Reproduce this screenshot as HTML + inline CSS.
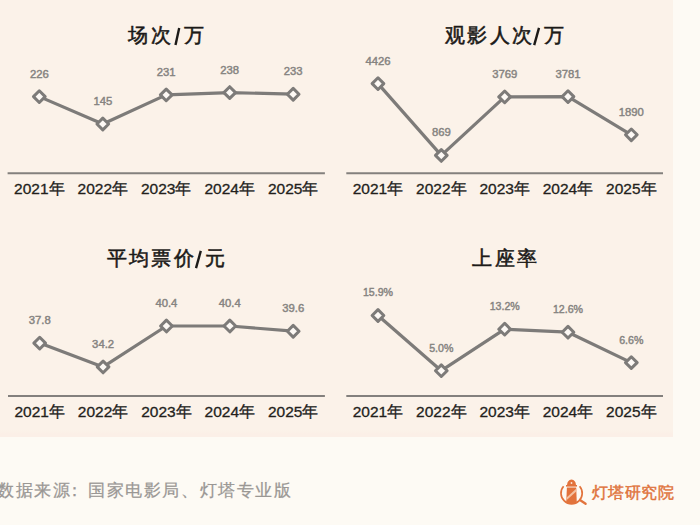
<!DOCTYPE html>
<html><head><meta charset="utf-8"><style>
html,body{margin:0;padding:0;}
body{width:700px;height:525px;overflow:hidden;background:#fdfaf4;position:relative;font-family:"Liberation Sans",sans-serif;}
.panel{position:absolute;left:0;top:0;width:673px;height:437px;background:linear-gradient(to bottom,#fbf2e9 0,#fbf2e9 430px,#fbefe7 434px,#fbefe7 437px);}
svg{position:absolute;left:0;top:0;}
.t{font-size:19.5px;font-weight:500;fill:#1c1a18;stroke:#1c1a18;stroke-width:0.55px;letter-spacing:2.3px;}
.l{font-size:11.3px;fill:#868481;stroke:#868481;stroke-width:0.45px;text-anchor:middle;}
.y{font-size:15.5px;fill:#231f1c;stroke:#231f1c;stroke-width:0.3px;text-anchor:middle;}
.src{position:absolute;left:-3px;top:479px;font-size:17px;line-height:24px;letter-spacing:1.6px;color:#9a9794;-webkit-text-stroke:0.25px #9a9794;white-space:nowrap;}
.c{position:relative;left:-5.5px;margin-right:-2px;}
.logo{position:absolute;left:591.8px;top:480.5px;letter-spacing:0.55px;font-size:16.4px;line-height:22px;color:#e0733c;-webkit-text-stroke:0.45px #e0733c;white-space:nowrap;}
</style></head><body>
<div class="panel"></div>
<svg width="700" height="525" viewBox="0 0 700 525">
<text class="t" x="128.4" y="42.0">场次</text>
<text class="t" x="183.6" y="42.0">万</text>
<line x1="175.5" y1="45.1" x2="179.2" y2="27.9" stroke="#1c1a18" stroke-width="2.4"/>
<line x1="7.6" y1="173.3" x2="324.9" y2="173.3" stroke="#83807d" stroke-width="2"/>
<polyline points="39.3,96.6 102.8,124.0 166.2,94.9 229.7,92.6 293.2,94.2" fill="none" stroke="#7d7b79" stroke-width="3.2" stroke-linejoin="round"/>
<path d="M39.3 90.76L45.18 96.6L39.3 102.46L33.48 96.6Z" fill="#fdf9f5" stroke="#7d7b79" stroke-width="3.0" stroke-linejoin="round"/>
<text class="l" transform="translate(39.3 77.5) scale(1 1)">226</text>
<path d="M102.8 118.14L108.64 124.0L102.8 129.84L96.94 124.0Z" fill="#fdf9f5" stroke="#7d7b79" stroke-width="3.0" stroke-linejoin="round"/>
<text class="l" transform="translate(102.8 104.9) scale(1 1)">145</text>
<path d="M166.2 89.07L172.10 94.9L166.2 100.77L160.40 94.9Z" fill="#fdf9f5" stroke="#7d7b79" stroke-width="3.0" stroke-linejoin="round"/>
<text class="l" transform="translate(166.2 75.8) scale(1 1)">231</text>
<path d="M229.7 86.71L235.56 92.6L229.7 98.41L223.86 92.6Z" fill="#fdf9f5" stroke="#7d7b79" stroke-width="3.0" stroke-linejoin="round"/>
<text class="l" transform="translate(229.7 73.5) scale(1 1)">238</text>
<path d="M293.2 88.40L299.02 94.2L293.2 100.10L287.32 94.2Z" fill="#fdf9f5" stroke="#7d7b79" stroke-width="3.0" stroke-linejoin="round"/>
<text class="l" transform="translate(293.2 75.1) scale(1 1)">233</text>
<text class="y" x="39.3" y="194.1">2021年</text>
<text class="y" x="102.8" y="194.1">2022年</text>
<text class="y" x="166.2" y="194.1">2023年</text>
<text class="y" x="229.7" y="194.1">2024年</text>
<text class="y" x="293.2" y="194.1">2025年</text>
<text class="t" x="445.1" y="42.0">观影人次</text>
<text class="t" x="543.5" y="42.0">万</text>
<line x1="534.2" y1="45.1" x2="539.0" y2="27.9" stroke="#1c1a18" stroke-width="2.4"/>
<line x1="346.3" y1="173.3" x2="663" y2="173.3" stroke="#83807d" stroke-width="2"/>
<polyline points="378.0,83.6 441.3,155.4 504.7,96.9 568.0,96.6 631.3,134.8" fill="none" stroke="#7d7b79" stroke-width="3.2" stroke-linejoin="round"/>
<path d="M378.0 77.74L383.82 83.6L378.0 89.44L372.12 83.6Z" fill="#fdf9f5" stroke="#7d7b79" stroke-width="3.0" stroke-linejoin="round"/>
<text class="l" transform="translate(378.0 64.5) scale(1 1)">4426</text>
<path d="M441.3 149.60L447.16 155.4L441.3 161.30L435.46 155.4Z" fill="#fdf9f5" stroke="#7d7b79" stroke-width="3.0" stroke-linejoin="round"/>
<text class="l" transform="translate(441.3 136.3) scale(1 1)">869</text>
<path d="M504.7 91.02L510.50 96.9L504.7 102.72L498.80 96.9Z" fill="#fdf9f5" stroke="#7d7b79" stroke-width="3.0" stroke-linejoin="round"/>
<text class="l" transform="translate(504.7 77.8) scale(1 1)">3769</text>
<path d="M568.0 90.77L573.84 96.6L568.0 102.47L562.14 96.6Z" fill="#fdf9f5" stroke="#7d7b79" stroke-width="3.0" stroke-linejoin="round"/>
<text class="l" transform="translate(568.0 77.5) scale(1 1)">3781</text>
<path d="M631.3 128.97L637.18 134.8L631.3 140.67L625.48 134.8Z" fill="#fdf9f5" stroke="#7d7b79" stroke-width="3.0" stroke-linejoin="round"/>
<text class="l" transform="translate(631.3 115.7) scale(1 1)">1890</text>
<text class="y" x="378.0" y="194.1">2021年</text>
<text class="y" x="441.3" y="194.1">2022年</text>
<text class="y" x="504.7" y="194.1">2023年</text>
<text class="y" x="568.0" y="194.1">2024年</text>
<text class="y" x="631.3" y="194.1">2025年</text>
<text class="t" x="106.9" y="265.0">平均票价</text>
<text class="t" x="205.4" y="265.0">元</text>
<line x1="196.0" y1="268.1" x2="200.8" y2="250.9" stroke="#1c1a18" stroke-width="2.4"/>
<line x1="8" y1="396.1" x2="324.9" y2="396.1" stroke="#83807d" stroke-width="2"/>
<polyline points="39.7,343.1 103.1,366.9 166.4,326.0 229.8,326.0 293.2,331.2" fill="none" stroke="#7d7b79" stroke-width="3.2" stroke-linejoin="round"/>
<path d="M39.7 337.29L45.54 343.1L39.7 348.99L33.84 343.1Z" fill="#fdf9f5" stroke="#7d7b79" stroke-width="3.0" stroke-linejoin="round"/>
<text class="l" transform="translate(39.7 324.0) scale(1 1)">37.8</text>
<path d="M103.1 361.09L108.92 366.9L103.1 372.79L97.22 366.9Z" fill="#fdf9f5" stroke="#7d7b79" stroke-width="3.0" stroke-linejoin="round"/>
<text class="l" transform="translate(103.1 347.8) scale(1 1)">34.2</text>
<path d="M166.4 320.11L172.30 326.0L166.4 331.81L160.60 326.0Z" fill="#fdf9f5" stroke="#7d7b79" stroke-width="3.0" stroke-linejoin="round"/>
<text class="l" transform="translate(166.4 306.9) scale(1 1)">40.4</text>
<path d="M229.8 320.11L235.68 326.0L229.8 331.81L223.98 326.0Z" fill="#fdf9f5" stroke="#7d7b79" stroke-width="3.0" stroke-linejoin="round"/>
<text class="l" transform="translate(229.8 306.9) scale(1 1)">40.4</text>
<path d="M293.2 325.39L299.06 331.2L293.2 337.09L287.36 331.2Z" fill="#fdf9f5" stroke="#7d7b79" stroke-width="3.0" stroke-linejoin="round"/>
<text class="l" transform="translate(293.2 312.1) scale(1 1)">39.6</text>
<text class="y" x="39.7" y="416.9">2021年</text>
<text class="y" x="103.1" y="416.9">2022年</text>
<text class="y" x="166.4" y="416.9">2023年</text>
<text class="y" x="229.8" y="416.9">2024年</text>
<text class="y" x="293.2" y="416.9">2025年</text>
<text class="t" x="472.3" y="265.0">上座率</text>
<line x1="346.3" y1="396.1" x2="663" y2="396.1" stroke="#83807d" stroke-width="2"/>
<polyline points="378.0,315.5 441.3,370.7 504.7,329.2 568.0,332.2 631.3,362.6" fill="none" stroke="#7d7b79" stroke-width="3.2" stroke-linejoin="round"/>
<path d="M378.0 309.63L383.82 315.5L378.0 321.33L372.12 315.5Z" fill="#fdf9f5" stroke="#7d7b79" stroke-width="3.0" stroke-linejoin="round"/>
<text class="l" transform="translate(378.0 296.4) scale(0.94 1)">15.9%</text>
<path d="M441.3 364.83L447.16 370.7L441.3 376.53L435.46 370.7Z" fill="#fdf9f5" stroke="#7d7b79" stroke-width="3.0" stroke-linejoin="round"/>
<text class="l" transform="translate(441.3 351.6) scale(0.94 1)">5.0%</text>
<path d="M504.7 323.31L510.50 329.2L504.7 335.01L498.80 329.2Z" fill="#fdf9f5" stroke="#7d7b79" stroke-width="3.0" stroke-linejoin="round"/>
<text class="l" transform="translate(504.7 310.1) scale(0.94 1)">13.2%</text>
<path d="M568.0 326.34L573.84 332.2L568.0 338.04L562.14 332.2Z" fill="#fdf9f5" stroke="#7d7b79" stroke-width="3.0" stroke-linejoin="round"/>
<text class="l" transform="translate(568.0 313.1) scale(0.94 1)">12.6%</text>
<path d="M631.3 356.73L637.18 362.6L631.3 368.43L625.48 362.6Z" fill="#fdf9f5" stroke="#7d7b79" stroke-width="3.0" stroke-linejoin="round"/>
<text class="l" transform="translate(631.3 343.5) scale(0.94 1)">6.6%</text>
<text class="y" x="378.0" y="416.9">2021年</text>
<text class="y" x="441.3" y="416.9">2022年</text>
<text class="y" x="504.7" y="416.9">2023年</text>
<text class="y" x="568.0" y="416.9">2024年</text>
<text class="y" x="631.3" y="416.9">2025年</text>
</svg>
<div class="src">数据来源<span class="c">：</span>国家电影局、灯塔专业版</div>
<svg width="700" height="525" viewBox="0 0 700 525">
<g fill="none" stroke="#e2733c">
<path d="M563.6 486.3A10.6 10.6 0 1 0 579.6 486.3" stroke-width="1.7"/>
<line x1="580.3" y1="500.2" x2="585.6" y2="503.8" stroke-width="2.3" stroke-linecap="round"/>
</g>
<g fill="#e2733c">
<path d="M567 485Q567.3 480 571.5 479.5Q575.7 480 576 485Z"/>
<rect x="566" y="485" width="11" height="1.6"/>
<path d="M566.9 487.6H576.2L576.8 503Q571.5 504.6 566.2 503Z"/>
</g>
<circle cx="571.5" cy="483" r="0.9" fill="#fbe6d8"/>
<path d="M566.6 497.6L576.4 488.6L576.5 491.2L566.5 500.3Z" fill="#f4c1a0"/>
</svg>
<div class="logo">灯塔研究院</div>
</body></html>
